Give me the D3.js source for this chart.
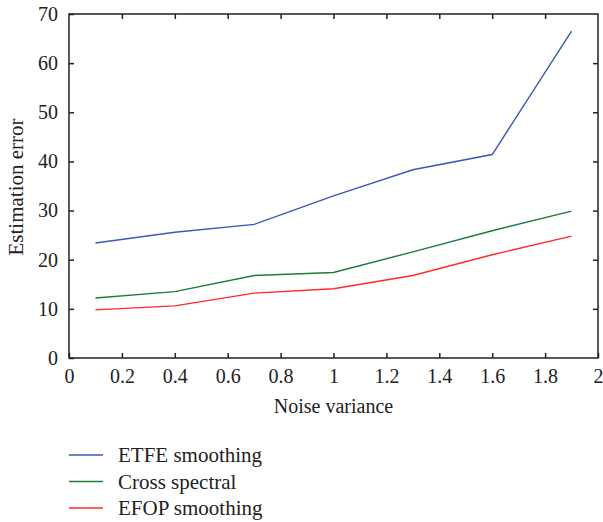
<!DOCTYPE html>
<html lang="en">
<head>
  <meta charset="UTF-8">
  <title>Estimation error</title>
  <script src="https://d3js.org/d3.v7.min.js"></script>
  <style>
    body { margin: 0; background: #fff; }
    .domain, .tick line { stroke: #222; }
  </style>
</head>
<body>
<svg width="603" height="522"></svg>
<script>
// === Data ===
const noiseVar = [0.1, 0.4, 0.7, 1.0, 1.3, 1.6, 1.9];
const etfe = [23.4, 25.6, 27.2, 33.0, 38.3, 41.4, 66.5];
const crossSpectral = [12.2, 13.5, 16.8, 17.4, 21.6, 25.9, 29.9];
const efop = [9.8, 10.6, 13.2, 14.1, 16.8, 21.0, 24.8];
const seriesNames = ["ETFE smoothing", "Cross spectral", "EFOP smoothing"];
const seriesColors = ["#3a59b4", "#1e7a3e", "#ff2a2a"];
const xTicks = [0, 0.2, 0.4, 0.6, 0.8, 1, 1.2, 1.4, 1.6, 1.8, 2];
const yTicks = [0, 10, 20, 30, 40, 50, 60, 70];

const FONT = "Liberation Serif, DejaVu Serif, serif";
const svg = d3.select("svg").attr("font-family", FONT);
const m = { left: 69, right: 598, top: 14, bottom: 358 };

const x = d3.scaleLinear().domain([0, 2]).range([m.left, m.right]);
const y = d3.scaleLinear().domain([0, 70]).range([m.bottom, m.top]);

// frame
svg.append("rect")
  .attr("x", m.left).attr("y", m.top)
  .attr("width", m.right - m.left).attr("height", m.bottom - m.top)
  .attr("fill", "none").attr("stroke", "#222").attr("stroke-width", 1.5);

function styleAxis(g) {
  g.attr("font-family", FONT).attr("font-size", 20);
  g.select(".domain").remove();
  g.selectAll(".tick text").attr("fill", "#222");
  g.selectAll(".tick line").attr("stroke-width", 1.5);
}

// axes (ticks pointing inward)
svg.append("g")
  .attr("transform", `translate(0,${m.bottom})`)
  .call(d3.axisBottom(x).tickValues(xTicks).tickSizeInner(-5).tickSizeOuter(0).tickPadding(11)
    .tickFormat(d => d === 0 || d === 1 || d === 2 ? d3.format("d")(d) : d3.format(".1f")(d)))
  .call(styleAxis);

svg.append("g")
  .attr("transform", `translate(0,${m.top})`)
  .call(d3.axisTop(x).tickValues(xTicks.slice(1, -1)).tickSizeInner(-5).tickSizeOuter(0).tickFormat(""))
  .call(styleAxis);

svg.append("g")
  .attr("transform", `translate(${m.left},0)`)
  .call(d3.axisLeft(y).tickValues(yTicks).tickSizeInner(-5).tickSizeOuter(0).tickPadding(11))
  .call(styleAxis);

svg.append("g")
  .attr("transform", `translate(${m.right},0)`)
  .call(d3.axisRight(y).tickValues(yTicks.slice(1, -1)).tickSizeInner(-5).tickSizeOuter(0).tickFormat(""))
  .call(styleAxis);

// axis titles
svg.append("text")
  .attr("x", (m.left + m.right) / 2).attr("y", 413)
  .attr("text-anchor", "middle").attr("font-size", 20).attr("fill", "#222")
  .text("Noise variance");

svg.append("text")
  .attr("transform", `translate(23,${(m.top + m.bottom) / 2 + 1}) rotate(-90)`)
  .attr("text-anchor", "middle").attr("font-size", 21).attr("fill", "#222")
  .text("Estimation error");

// lines
const allSeries = [etfe, crossSpectral, efop];
const line = d3.line().x((d, i) => x(noiseVar[i])).y(d => y(d));

svg.append("g").selectAll("path")
  .data(allSeries)
  .join("path")
  .attr("d", line)
  .attr("fill", "none")
  .attr("stroke", (d, i) => seriesColors[i])
  .attr("stroke-width", 1.4);

// legend
const legend = svg.append("g").selectAll("g")
  .data(seriesNames)
  .join("g")
  .attr("transform", (d, i) => `translate(69,${455 + i * 26.5})`);

legend.append("line")
  .attr("x1", 0).attr("x2", 34)
  .attr("stroke", (d, i) => seriesColors[i])
  .attr("stroke-width", 1.4);

legend.append("text")
  .attr("x", 49).attr("dy", "0.35em")
  .attr("font-size", 21).attr("fill", "#222")
  .text(d => d);
</script>
</body>
</html>
